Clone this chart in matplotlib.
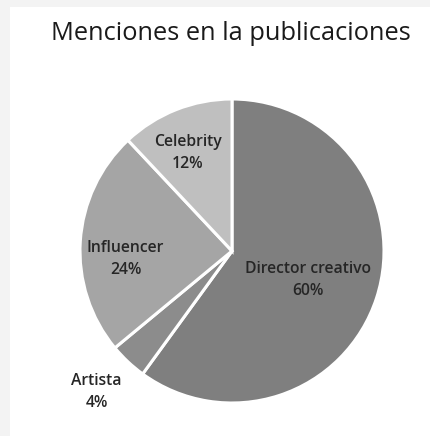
import matplotlib
matplotlib.use("Agg")
import matplotlib.pyplot as plt
from matplotlib.patches import Rectangle

categories = ["Director creativo", "Artista", "Influencer", "Celebrity"]
shares = [60, 4, 24, 12]
colors = ["#7f7f7f", "#8c8c8c", "#a5a5a5", "#bfbfbf"]

# label anchor points, in units of the pie radius
label_xy = [(0.50, -0.19), (-0.89, -0.93), (-0.70, -0.05), (-0.29, 0.645)]

plt.rcParams['font.family'] = ['Open Sans', 'DejaVu Sans']

W, H = 430, 436
fig = plt.figure(figsize=(W / 100, H / 100), dpi=100)
fig.patch.set_facecolor("white")

# light frame strips along the top and left edges
fig.patches.append(Rectangle((0, 0), 10 / W, 1, transform=fig.transFigure,
                             facecolor="#f3f3f3", edgecolor="none", zorder=0))
fig.patches.append(Rectangle((0, 1 - 7 / H), 1, 7 / H, transform=fig.transFigure,
                             facecolor="#f3f3f3", edgecolor="none", zorder=0))

fig.text(231 / W, 1 - 33 / H, "Menciones en la publicaciones", ha="center", va="center",
         fontsize=18.3, color="#1a1a1a")

ax = fig.add_axes([80 / W, 33 / H, 304 / W, 304 / H])
wedges, _ = ax.pie(shares, colors=colors, startangle=90, counterclock=False,
                   wedgeprops=dict(edgecolor="white", linewidth=2.2))
ax.set_xlim(-1, 1)
ax.set_ylim(-1, 1)
ax.set_aspect("equal")
ax.axis("off")

for name, val, (x, y) in zip(categories, shares, label_xy):
    ax.text(x, y, f"{name}\n{val}%", ha="center", va="center", fontsize=11.3,
            fontweight="semibold", color="#262626", linespacing=1.5, clip_on=False)

fig.savefig("out.png", dpi=100, facecolor="white")
